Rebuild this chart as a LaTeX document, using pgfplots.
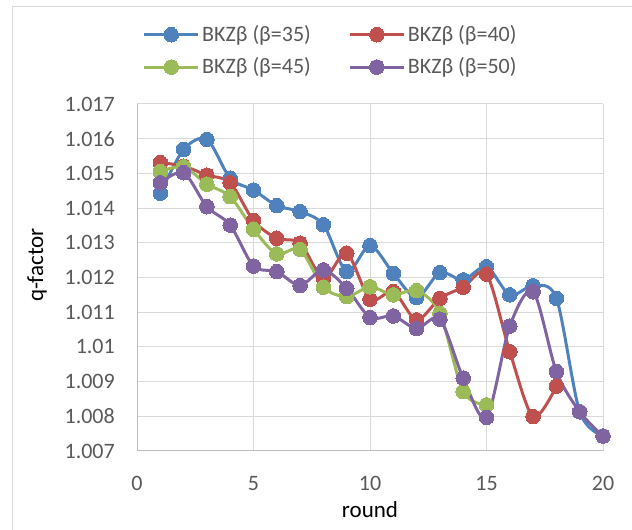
\documentclass[border=0pt]{standalone}
\usepackage{fontspec}
\setmainfont{Carlito}
\usepackage{pgfplots}
\pgfplotsset{compat=1.18}
\definecolor{cA}{HTML}{4F81BD}
\definecolor{cB}{HTML}{C0504D}
\definecolor{cC}{HTML}{9BBB59}
\definecolor{cD}{HTML}{8064A2}
\definecolor{gridc}{HTML}{D9D9D9}
\definecolor{axisc}{HTML}{BFBFBF}
\definecolor{tickc}{HTML}{595959}
\begin{document}
\fontsize{22bp}{26bp}\selectfont
\begin{tikzpicture}
\useasboundingbox (0,0) rectangle (632bp,530bp);
\draw[gridc, line width=1bp] (12bp,-5bp) -- (12bp,523bp) -- (640bp,523bp);
\begin{axis}[
  at={(137bp,79bp)}, anchor=south west,
  scale only axis, width=466bp, height=347bp,
  xmin=0, xmax=20, ymin=1.007, ymax=1.017,
  xtick={0,5,10,15,20},
  ytick={1.007,1.008,1.009,1.010,1.011,1.012,1.013,1.014,1.015,1.016,1.017},
  /pgf/number format/assume math mode=true,
  /pgf/number format/fixed, /pgf/number format/precision=3,
  yticklabel style={/pgf/number format/fixed, /pgf/number format/precision=3},
  major tick length=0pt,
  grid=major,
  major grid style={gridc, line width=1bp},
  axis lines*=left,
  axis line style={axisc, line width=1bp},
  tick label style={text=tickc, font=\fontsize{22bp}{26bp}\selectfont},
  yticklabel style={inner sep=0pt, anchor=east, xshift=-22bp},
  xticklabel style={inner sep=0pt, anchor=north, yshift=-25bp},
  xlabel={round}, ylabel={q-factor},
  every axis x label/.style={at={(axis description cs:0.5,0)}, anchor=center, yshift=-59bp, font=\fontsize{23bp}{27bp}\selectfont},
  every axis y label/.style={at={(axis description cs:-0.2146,0.536)}, rotate=90, anchor=center, font=\fontsize{23bp}{27bp}\selectfont},
  clip=false,
  legend columns=2,
  legend cell align=left,
  legend style={at={(0.416,1.153)}, anchor=center, draw=none, fill=none,
    text=tickc, font=\fontsize{22bp}{26bp}\selectfont,
    /tikz/every even column/.append style={column sep=35bp},
    row sep=8bp,
    nodes={inner sep=2.5bp}},
  legend image code/.code={\draw[mark repeat=2, mark phase=2, #1] plot coordinates {(0bp,0bp) (27bp,0bp) (54bp,0bp)};},
  every axis plot/.append style={line width=3bp, smooth, tension=0.5, mark=*, mark size=7.3bp},
]
\addplot[color=cA, mark options={fill=cA, draw=cA, line width=0bp}] coordinates {
(1,1.01443)(2,1.01569)(3,1.01598)(4,1.01486)(5,1.01452)(6,1.01407)(7,1.01390)(8,1.01352)(9,1.01217)(10,1.01292)(11,1.01212)(12,1.01142)(13,1.01214)(14,1.01193)(15,1.01231)(16,1.01150)(17,1.01176)(18,1.01140)(19,1.00813)(20,1.00743)};
\addlegendentry{BKZβ (β=35)}
\addplot[color=cB, mark options={fill=cB, draw=cB, line width=0bp}] coordinates {
(1,1.01531)(2,1.01521)(3,1.01495)(4,1.01473)(5,1.01364)(6,1.01313)(7,1.01299)(8,1.01198)(9,1.01270)(10,1.01137)(11,1.01159)(12,1.01078)(13,1.01140)(14,1.01172)(15,1.01210)(16,1.00986)(17,1.00799)(18,1.00887)};
\addlegendentry{BKZβ (β=40)}
\addplot[color=cC, mark options={fill=cC, draw=cC, line width=0bp}] coordinates {
(1,1.01505)(2,1.01519)(3,1.01469)(4,1.01433)(5,1.01339)(6,1.01268)(7,1.01281)(8,1.01172)(9,1.01145)(10,1.01173)(11,1.01150)(12,1.01162)(13,1.01097)(14,1.00871)(15,1.00833)};
\addlegendentry{BKZβ (β=45)}
\addplot[color=cD, mark options={fill=cD, draw=cD, line width=0bp}] coordinates {
(1,1.01473)(2,1.01502)(3,1.01404)(4,1.01351)(5,1.01233)(6,1.01217)(7,1.01177)(8,1.01222)(9,1.01169)(10,1.01085)(11,1.01089)(12,1.01053)(13,1.01080)(14,1.00910)(15,1.00797)(16,1.01060)(17,1.01159)(18,1.00929)(19,1.00813)(20,1.00743)};
\addlegendentry{BKZβ (β=50)}
\end{axis}
\end{tikzpicture}
\end{document}
